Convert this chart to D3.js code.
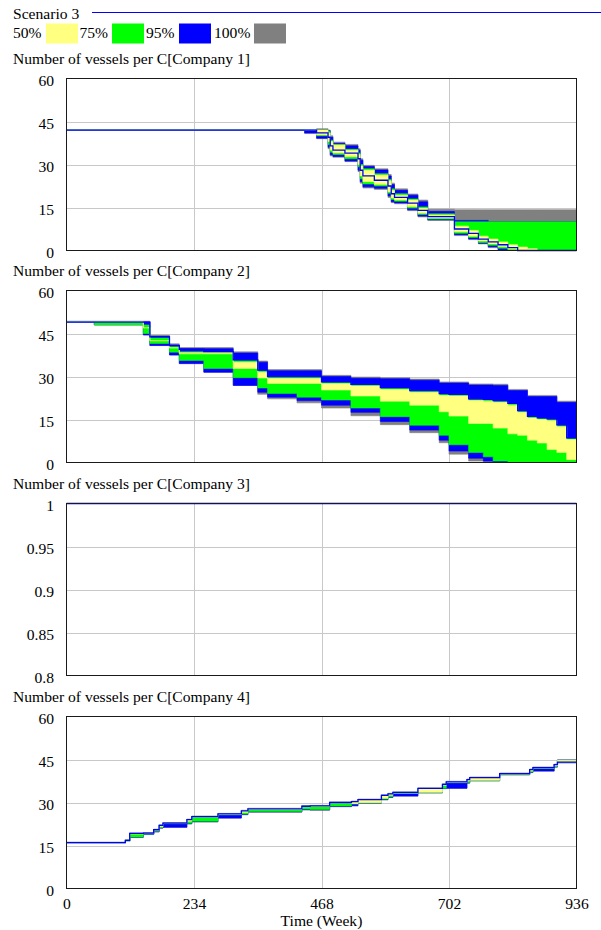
<!DOCTYPE html>
<html><head><meta charset="utf-8">
<script src="https://cdn.jsdelivr.net/npm/d3@7/dist/d3.min.js"></script>
<style>
body{margin:0;background:#fff}
svg{display:block}
text{font-family:"Liberation Serif","Times New Roman",serif;fill:#000}
</style>
</head><body>
<svg id="c" width="601" height="930"></svg>
<script>
// ---------- data ----------
const scenarioName = "Scenario 3";
const legendLabels = ["50%", "75%", "95%", "100%"];
const panelTitles = [
  "Number of vessels per C[Company 1]",
  "Number of vessels per C[Company 2]",
  "Number of vessels per C[Company 3]",
  "Number of vessels per C[Company 4]"
];
const xTicks = [0, 234, 468, 702, 936];
const xLabel = "Time (Week)";
const countTicks = [0, 15, 30, 45, 60];
const fracTicks = [0.8, 0.85, 0.9, 0.95, 1];

// Company 1
const p1Weeks    = [0, 437, 459, 480, 484, 489, 511, 535, 539, 544, 565, 590, 596, 602, 626, 645, 663, 712, 738, 756, 774, 792, 810, 828, 846, 864, 936];
const p1GrayHi   = [42, 42, 42.5, 42, 40, 37.8, 37, 35.5, 32, 29.7, 28.5, 26.5, 23.5, 21.5, 19.7, 17.6, 14.4, 14.2, 14.2, 14.2, 14.2, 14.2, 14.2, 14.2, 14.2, 14.2, 14.2];
const p1BlueHi   = [42, 42, 42, 41.8, 39.5, 37.4, 36.5, 35, 31.5, 29.3, 28.1, 26, 23, 21, 19.3, 17, 13.6, 10.5, 10.5, 10.5, 10, 10, 10, 10, 10, 10, 10];
const p1GreenHi  = [42, 42, 42, 41.5, 38.5, 37, 35.3, 34, 30, 28.5, 26.8, 24.8, 21.5, 19.8, 18, 15.2, 12.8, 10, 10, 10, 10, 10, 10, 10, 10, 10, 10];
const p1YellowHi = [42, 42, 42, 41, 38, 36.8, 35, 33.5, 29.5, 28, 26.3, 24.3, 21, 19.3, 17.6, 14.7, 12.4, 8.5, 7, 5, 4, 3, 2, 1.2, 0.6, 0, 0];
const p1YellowLo = [42, 42, 40.3, 38, 35, 34, 32.7, 30, 26, 24, 23, 20.5, 18.3, 17.6, 15.3, 13, 11.3, 6.5, 5, 3.3, 2.3, 1.3, 0.5, 0, 0, 0, 0];
const p1GreenLo  = [42, 42, 40, 37, 34.3, 33.5, 32, 29.2, 25, 23.2, 22.5, 20, 17.8, 17.2, 14.8, 12.6, 11, 6, 4.5, 2.8, 1.8, 0.8, 0, 0, 0, 0, 0];
const p1BlueLo   = [42, 41, 39.2, 36, 33.4, 32.8, 31.2, 28, 24, 22.2, 21.7, 19, 17, 16.6, 14.2, 12, 10.7, 5.5, 4, 2.5, 1.3, 0.3, 0, 0, 0, 0, 0];
const p1GrayLo   = [42, 40.8, 39, 35.5, 33, 32.5, 31, 27.5, 23.5, 21.8, 21.3, 18.5, 16.7, 16.3, 13.9, 11.7, 10.5, 5.2, 3.8, 2.3, 1, 0, 0, 0, 0, 0, 0];
const p1Base     = [42, 42, 41, 39.5, 36.5, 35, 34, 32, 28, 26, 24.5, 22.5, 19.8, 18.5, 16.5, 14, 11.8, 7.5, 6, 4, 3, 2, 1, 0, 0, 0, 0];

// Company 2
const p2Weeks    = [0, 51, 141, 153, 189, 207, 252, 306, 351, 369, 423, 468, 522, 576, 630, 684, 702, 738, 765, 783, 810, 828, 846, 864, 882, 900, 918, 936];
const p2GrayHi   = [49.3, 49.3, 49.3, 44.4, 41.4, 40.1, 40.1, 38.6, 35.4, 32.4, 32.4, 30.4, 29.8, 29.6, 29.1, 28.1, 28.1, 27.4, 27.4, 27.3, 25.5, 25.5, 23.4, 23.4, 23.4, 21.4, 21.4, 21.4];
const p2BlueHi   = [49, 49, 49, 44, 41, 39.7, 39.7, 38.2, 35, 32, 32, 30, 29.4, 29.2, 28.7, 27.7, 27.7, 27, 27, 26.9, 25.1, 25.1, 23, 23, 23, 21, 21, 21];
const p2GreenHi  = [49, 49, 48, 43.5, 40.5, 38.6, 38.6, 35.6, 32, 29.8, 29.8, 27.9, 27.1, 25.9, 24.9, 23.8, 23.6, 22, 21.8, 21.4, 20.4, 17.9, 15.9, 15.4, 15, 12.9, 8.4, 8.4];
const p2YellowHi = [49, 49, 47, 42.5, 40, 38.3, 38.3, 35, 31.5, 29.3, 29.3, 27.5, 26.7, 25.5, 24.5, 23.4, 23.2, 21.6, 21.4, 21, 20, 17.5, 15.5, 15, 14.6, 12.5, 8, 8];
const p2YellowLo = [49, 49, 47, 42.5, 40, 37.9, 37.9, 32.8, 29.5, 27.6, 27.6, 25.3, 23.2, 21.4, 20, 17.7, 16.2, 13.6, 13.6, 12, 10, 9.5, 7.8, 6.8, 4.5, 3.5, 1, 1];
const p2GreenLo  = [49, 48, 45, 41.5, 38.5, 35.6, 32.8, 29.6, 26, 24.1, 22.8, 21.8, 19, 16, 13, 9.5, 6.2, 3.5, 2, 0.5, 0, 0, 0, 0, 0, 0, 0, 0];
const p2BlueLo   = [49, 48, 44.5, 40.8, 37.5, 34.5, 31.5, 26.9, 24.5, 22.8, 21.6, 20, 17.5, 14.3, 11.3, 7.8, 4, 1.5, 0.5, 0, 0, 0, 0, 0, 0, 0, 0, 0];
const p2GrayLo   = [49, 48, 44.5, 40.8, 37.5, 34.5, 31.5, 26.9, 23.8, 22.2, 20.8, 19, 16.3, 13.2, 10.4, 6.9, 2.9, 0.5, 0, 0, 0, 0, 0, 0, 0, 0, 0, 0];
const p2Base     = [49, 49, 49, 43.8, 40.8, 39.5, 38.7, 35.8, 32.2, 30, 30, 28.1, 27.3, 26.1, 25.1, 24, 23.8, 22.2, 22, 21.6, 20.6, 18.1, 16.1, 15.6, 15.2, 13.1, 8.6, 8.6];

// Company 3
const p3Weeks = [0, 936];
const p3Base  = [1, 1];

// Company 4
const p4Weeks    = [0, 108, 116, 141, 160, 170, 177, 221, 230, 278, 321, 333, 432, 447, 483, 523, 535, 578, 590, 599, 645, 690, 697, 735, 740, 795, 850, 856, 895, 901, 936];
const p4Base     = [16, 16.8, 19.2, 19.3, 20.5, 22, 22.8, 24, 25.1, 26, 27.1, 27.8, 28.7, 28.8, 30, 30.3, 31, 32.5, 33, 33.5, 34.9, 36.3, 37.2, 38, 38.7, 40.1, 41.5, 42.2, 43.2, 44.1, 44.1];
const p4GrayHi   = [16.2, 17, 19.4, 19.5, 20.7, 22.2, 23, 24.2, 25.3, 26.2, 27.3, 28, 28.9, 29, 30.2, 30.5, 31.2, 32.7, 33.2, 33.7, 35.1, 36.5, 37.4, 38.2, 38.9, 40.3, 41.7, 42.4, 43.4, 44.9, 44.9];
const p4BlueHi   = [16, 16.8, 19.2, 19.3, 20.5, 22, 22.8, 24, 25.1, 26, 27.1, 27.8, 28.7, 28.8, 30, 30.3, 31, 32.5, 33, 33.5, 34.9, 36.3, 37.2, 38, 38.7, 40.1, 41.5, 42.2, 43.2, 44.8, 44.8];
const p4GreenHi  = [16, 16.8, 19.2, 19.3, 20.5, 22, 22.8, 24, 25.1, 26, 27.1, 27.8, 28.7, 28.8, 30, 30.3, 31, 32.5, 33, 33.5, 34.9, 36.3, 37.2, 38, 38.7, 40.1, 41.5, 42.2, 43.2, 44.7, 44.7];
const p4YellowHi = [16, 16.8, 19.2, 19.3, 20.5, 22, 22.8, 24, 25.1, 26, 27.1, 27.8, 28.7, 28.8, 30, 30.3, 31, 32.5, 33, 33.5, 34.9, 36.3, 37.2, 38, 38.7, 40.1, 41.5, 42.2, 43.2, 44.7, 44.7];
const p4YellowLo = [16, 16.5, 19, 19.2, 20.2, 21.5, 22.7, 23.5, 24.9, 25.8, 26.5, 27.6, 28.5, 28.6, 29.8, 29.6, 30, 31.5, 32.5, 33.3, 33.6, 36, 37, 37.5, 37.8, 39.9, 41, 42, 42.8, 44.1, 44.1];
const p4GreenLo  = [16, 16.5, 18, 19, 20, 21.3, 22.6, 22.8, 23.5, 25.7, 26, 26.9, 27.7, 27.6, 28.8, 29.5, 29.9, 31.2, 32, 33.2, 33.5, 35, 36.9, 37, 37.7, 39.8, 40.6, 41.9, 42.6, 44, 44];
const p4BlueLo   = [16, 16.5, 17.9, 18.9, 19.8, 21.1, 21.4, 22.6, 23.3, 24.6, 25.8, 26.7, 27.5, 27.4, 28.6, 28.9, 29.8, 31, 31.8, 32.3, 33.4, 34.9, 35, 36.8, 37.6, 39.7, 40.5, 41, 42.4, 43.9, 43.9];
const p4GrayLo   = [16, 16.4, 17.8, 18.8, 19.7, 21, 21.3, 22.5, 23.2, 24.5, 25.7, 26.6, 27.4, 27.3, 28.5, 28.8, 29.7, 30.9, 31.7, 32.2, 33.3, 34.8, 34.9, 36.7, 37.5, 39.6, 40.4, 40.9, 42.3, 43.8, 43.8];

// ---------- styles ----------
const COLORS = {gray: "#808080", blue: "#0000ff", green: "#00ff00", yellow: "#ffff80"};
const legendColors = [COLORS.yellow, COLORS.green, COLORS.blue, COLORS.gray];
const FONT = 15.6;
const PLOT_L = 66.5, PLOT_R = 576.5, PLOT_H = 172;
const panelTops = [78.5, 290.5, 503.5, 716.5];

const panels = [
  {weeks: p1Weeks, domain: [0, 60], ticks: countTicks, base: p1Base,
   bands: [[p1GrayLo, p1GrayHi, COLORS.gray], [p1BlueLo, p1BlueHi, COLORS.blue], [p1GreenLo, p1GreenHi, COLORS.green], [p1YellowLo, p1YellowHi, COLORS.yellow]]},
  {weeks: p2Weeks, domain: [0, 60], ticks: countTicks, base: p2Base,
   bands: [[p2GrayLo, p2GrayHi, COLORS.gray], [p2BlueLo, p2BlueHi, COLORS.blue], [p2GreenLo, p2GreenHi, COLORS.green], [p2YellowLo, p2YellowHi, COLORS.yellow]]},
  {weeks: p3Weeks, domain: [0.8, 1], ticks: fracTicks, base: p3Base, bands: []},
  {weeks: p4Weeks, domain: [0, 60], ticks: countTicks, base: p4Base,
   bands: [[p4GrayLo, p4GrayHi, COLORS.gray], [p4BlueLo, p4BlueHi, COLORS.blue], [p4GreenLo, p4GreenHi, COLORS.green], [p4YellowLo, p4YellowHi, COLORS.yellow]]}
];

const svg = d3.select("#c");
const x = d3.scaleLinear().domain([0, 936]).range([PLOT_L, PLOT_R]);

// ---------- legend ----------
svg.append("text").attr("x", 13).attr("y", 18.5).attr("font-size", FONT).text(scenarioName);
svg.append("line").attr("x1", 92).attr("x2", 601).attr("y1", 12.5).attr("y2", 12.5)
  .attr("stroke", COLORS.blue).attr("stroke-width", 1);
const legTextX = [13, 79.5, 146, 214];
const legSwX = [46, 112, 179, 254];
legendLabels.forEach((lab, i) => {
  svg.append("text").attr("x", legTextX[i]).attr("y", 38).attr("font-size", FONT).text(lab);
  svg.append("rect").attr("x", legSwX[i]).attr("y", 23.5).attr("width", 32).attr("height", 20)
    .attr("fill", legendColors[i]);
});

// ---------- panels ----------
panels.forEach((p, pi) => {
  const top = panelTops[pi];
  const y = d3.scaleLinear().domain(p.domain).range([top + PLOT_H, top]);
  const g = svg.append("g");

  g.append("text").attr("x", 13).attr("y", top - 14.5).attr("font-size", FONT).text(panelTitles[pi]);

  const clipId = "clip" + pi;
  svg.append("clipPath").attr("id", clipId).append("rect")
    .attr("x", PLOT_L).attr("y", top).attr("width", PLOT_R - PLOT_L).attr("height", PLOT_H);

  // grid
  g.selectAll(".hg").data(p.ticks.slice(1, -1)).join("line")
    .attr("x1", PLOT_L).attr("x2", PLOT_R)
    .attr("y1", d => Math.round(y(d)) + 0.5).attr("y2", d => Math.round(y(d)) + 0.5)
    .attr("stroke", "#c8c8c8").attr("stroke-width", 1);
  g.selectAll(".vg").data(xTicks.slice(1, -1)).join("line")
    .attr("y1", top).attr("y2", top + PLOT_H)
    .attr("x1", d => Math.round(x(d)) + 0.5).attr("x2", d => Math.round(x(d)) + 0.5)
    .attr("stroke", "#c8c8c8").attr("stroke-width", 1);

  const plot = g.append("g").attr("clip-path", `url(#${clipId})`);
  const idx = d3.range(p.weeks.length);
  p.bands.forEach(([lo, hi, col]) => {
    const area = d3.area()
      .x(i => x(p.weeks[i])).y0(i => y(lo[i])).y1(i => y(hi[i]))
      .curve(d3.curveStepAfter);
    plot.append("path").attr("d", area(idx)).attr("fill", col)
      .attr("stroke", col).attr("stroke-width", 0.6);
  });
  const line = d3.line().x(i => x(p.weeks[i])).y(i => y(p.base[i])).curve(d3.curveStepAfter);
  g.append("path").attr("d", line(idx)).attr("fill", "none")
    .attr("stroke", COLORS.blue).attr("stroke-width", 1.3);

  // border
  g.append("rect").attr("x", PLOT_L).attr("y", top).attr("width", PLOT_R - PLOT_L).attr("height", PLOT_H)
    .attr("fill", "none").attr("stroke", "#1a1a1a").attr("stroke-width", 1);

  // y axis
  const yAxis = d3.axisLeft(y).tickValues(p.ticks).tickSize(0).tickPadding(12.5)
    .tickFormat(d3.format(""));
  const ya = g.append("g").attr("transform", `translate(${PLOT_L},0)`).call(yAxis);
  ya.select(".domain").remove();
  ya.selectAll("text").attr("font-size", FONT).attr("dy", "0.43em")
    .attr("font-family", '"Liberation Serif","Times New Roman",serif').attr("fill", "#000");

  if (pi === panels.length - 1) {
    const xAxis = d3.axisBottom(x).tickValues(xTicks).tickSize(0).tickPadding(9.5).tickFormat(d3.format(""));
    const xa = g.append("g").attr("transform", `translate(0,${top + PLOT_H})`).call(xAxis);
    xa.select(".domain").remove();
    xa.selectAll("text").attr("font-size", FONT)
      .attr("font-family", '"Liberation Serif","Times New Roman",serif').attr("fill", "#000");
    g.append("text").attr("x", (PLOT_L + PLOT_R) / 2).attr("y", 925.5).attr("text-anchor", "middle")
      .attr("font-size", FONT).text(xLabel);
  }
});
</script>
</body></html>
